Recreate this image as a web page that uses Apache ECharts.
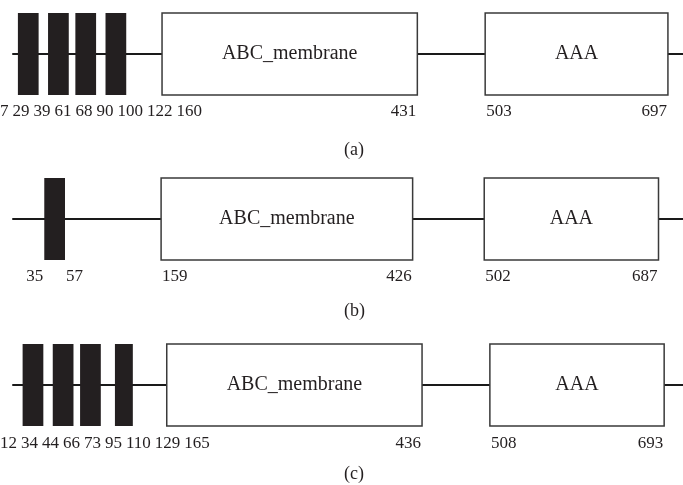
<!DOCTYPE html>
<html>
<head>
<meta charset="utf-8">
<script src="https://cdn.jsdelivr.net/npm/echarts@6/dist/echarts.min.js"></script>
<style>
html,body{margin:0;padding:0;background:#ffffff;width:683px;height:485px;overflow:hidden;}
.panel{position:absolute;left:0;width:683px;}
#pa{top:0;height:160px;}
#pb{top:160px;height:160px;}
#pc{top:320px;height:165px;}
</style>
</head>
<body>
<div id="pa" class="panel"></div>
<div id="pb" class="panel"></div>
<div id="pc" class="panel"></div>
<script>
// ---- data (residue numbers) ----
const captions = ['(a)', '(b)', '(c)'];
const domainNames = ['ABC_membrane', 'AAA'];
const backboneStart = 1;

const tmStartA = [7, 39, 68, 100];
const tmEndA = [29, 61, 90, 122];
const domainStartA = [160, 503];
const domainEndA = [431, 697];

const tmStartB = [35];
const tmEndB = [57];
const domainStartB = [159, 502];
const domainEndB = [426, 687];

const tmStartC = [12, 44, 73, 110];
const tmEndC = [34, 66, 95, 129];
const domainStartC = [165, 508];
const domainEndC = [436, 693];

// ---- shared residue axis ----
const xMin = -12, xMax = 713;
const FONT = '"Liberation Serif", "Times New Roman", serif';
const INK = '#231f20';
const LABEL_SIZE = 17;

const measureCtx = document.createElement('canvas').getContext('2d');
function textWidth(t, size) {
  measureCtx.font = size + 'px ' + FONT;
  return measureCtx.measureText(t).width;
}

// Spread labels (kept in residue order) so they do not overlap,
// keeping each crowded group centred on its preferred positions.
function resolveLabels(items, gap, W) {
  const order = items.map((it, i) => i).sort((a, b) => (items[a].v - items[b].v) || (items[a].side - items[b].side));
  const clusters = [];
  function place(c) {
    let off = 0, sum = 0;
    c.members.forEach(i => {
      items[i].off = off;
      sum += items[i].pref - items[i].w / 2 - off;
      off += items[i].w + gap;
    });
    c.width = off - gap;
    c.left = Math.max(0, Math.min(W - c.width, sum / c.members.length));
  }
  order.forEach(i => {
    const c = { members: [i] };
    place(c);
    clusters.push(c);
    while (clusters.length > 1) {
      const b = clusters[clusters.length - 1], a = clusters[clusters.length - 2];
      if (a.left + a.width + gap > b.left) {
        clusters.pop(); clusters.pop();
        const m = { members: a.members.concat(b.members) };
        place(m);
        clusters.push(m);
      } else break;
    }
  });
  const centers = new Array(items.length);
  clusters.forEach(c => c.members.forEach(i => {
    centers[i] = c.left + items[i].off + items[i].w / 2;
  }));
  return centers;
}

function buildEdges(tmStart, tmEnd, domStart, domEnd) {
  const edges = [];
  tmStart.forEach((s, i) => {
    edges.push({ v: s, side: -1 });       // label sits left of a TM start
    edges.push({ v: tmEnd[i], side: 1 }); // label sits right of a TM end
  });
  domStart.forEach((s, i) => {
    edges.push({ v: s, side: 1 });        // label inside the box, from its left edge
    edges.push({ v: domEnd[i], side: -1 });
  });
  return edges;
}

function buildOption(caption, tmStart, tmEnd, domStart, domEnd, layout, edges, shifts) {
  const tmData = tmStart.map((s, i) => [s, tmEnd[i]]);
  const domData = domStart.map((s, i) => [s, domEnd[i], domainNames[i]]);

  return {
    animation: false,
    backgroundColor: '#ffffff',
    title: {
      text: caption, left: layout.capLeft, top: layout.capTop,
      textStyle: { fontFamily: FONT, fontSize: 18, fontWeight: 'normal', color: INK }
    },
    grid: { left: 0, right: 0, top: layout.boxTop, height: layout.boxHeight },
    xAxis: { type: 'value', min: xMin, max: xMax, show: false },
    yAxis: { type: 'value', min: -1, max: 1, show: false },
    series: [
      {
        type: 'custom', name: 'backbone', silent: true, z: 1,
        data: [[backboneStart]],
        renderItem: function (params, api) {
          const p = api.coord([api.value(0), 0]);
          const cs = params.coordSys;
          return {
            type: 'line',
            shape: { x1: p[0], y1: p[1], x2: cs.x + cs.width, y2: p[1] },
            style: { stroke: '#1a1a1a', lineWidth: 2 }
          };
        }
      },
      {
        type: 'custom', name: 'TM', silent: true, z: 3,
        data: tmData,
        renderItem: function (params, api) {
          const p0 = api.coord([api.value(0), 1]);
          const p1 = api.coord([api.value(1), -1]);
          return {
            type: 'rect',
            shape: { x: p0[0], y: p0[1], width: p1[0] - p0[0], height: p1[1] - p0[1] },
            style: { fill: INK }
          };
        }
      },
      {
        type: 'custom', name: 'domains', silent: true, z: 3,
        data: domData,
        renderItem: function (params, api) {
          const p0 = api.coord([api.value(0), 1]);
          const p1 = api.coord([api.value(1), -1]);
          const name = domData[params.dataIndex][2];
          return {
            type: 'group',
            children: [
              {
                type: 'rect',
                shape: { x: p0[0], y: p0[1], width: p1[0] - p0[0], height: p1[1] - p0[1] },
                style: { fill: '#ffffff', stroke: '#3a3a3a', lineWidth: 1.5 }
              },
              {
                type: 'text',
                x: (p0[0] + p1[0]) / 2, y: (p0[1] + p1[1]) / 2,
                style: {
                  text: name, align: 'center', verticalAlign: 'middle',
                  fontFamily: FONT, fontSize: 20, fill: INK
                }
              }
            ]
          };
        }
      },
      {
        type: 'scatter', name: 'edges', silent: true, z: 4,
        data: edges.map(e => [e.v, -1]), symbolSize: 1,
        itemStyle: { color: 'rgba(0,0,0,0)' },
        label: {
          show: true, position: 'bottom', distance: layout.labelDist,
          formatter: p => String(p.value[0]),
          fontFamily: FONT, fontSize: LABEL_SIZE, color: INK, opacity: 1
        },
        labelLayout: function (params) {
          return { dx: shifts ? shifts[params.dataIndex] : 0 };
        }
      }
    ]
  };
}

const panels = [
  { id: 'pa', cap: captions[0], tmS: tmStartA, tmE: tmEndA, dS: domainStartA, dE: domainEndA,
    layout: { boxTop: 13, boxHeight: 82, labelDist: 8, capLeft: 339, capTop: 136 } },
  { id: 'pb', cap: captions[1], tmS: tmStartB, tmE: tmEndB, dS: domainStartB, dE: domainEndB,
    layout: { boxTop: 18, boxHeight: 82, labelDist: 8, capLeft: 339, capTop: 137 } },
  { id: 'pc', cap: captions[2], tmS: tmStartC, tmE: tmEndC, dS: domainStartC, dE: domainEndC,
    layout: { boxTop: 24, boxHeight: 82, labelDist: 9, capLeft: 339, capTop: 140 } }
];

panels.forEach(p => {
  const chart = echarts.init(document.getElementById(p.id), null, { renderer: 'canvas' });
  const edges = buildEdges(p.tmS, p.tmE, p.dS, p.dE);
  chart.setOption(buildOption(p.cap, p.tmS, p.tmE, p.dS, p.dE, p.layout, edges, null));
  // anchors in pixels through the chart's own scale
  const items = edges.map(e => {
    const ax = chart.convertToPixel({ gridIndex: 0 }, [e.v, -1])[0];
    const w = textWidth(String(e.v), LABEL_SIZE);
    return { v: e.v, side: e.side, ax: ax, w: w, pref: ax + e.side * (w / 2 + 1) };
  });
  const centers = resolveLabels(items, 4, chart.getWidth());
  const shifts = items.map((it, i) => centers[i] - it.ax);
  chart.setOption(buildOption(p.cap, p.tmS, p.tmE, p.dS, p.dE, p.layout, edges, shifts));
});
</script>
</body>
</html>
